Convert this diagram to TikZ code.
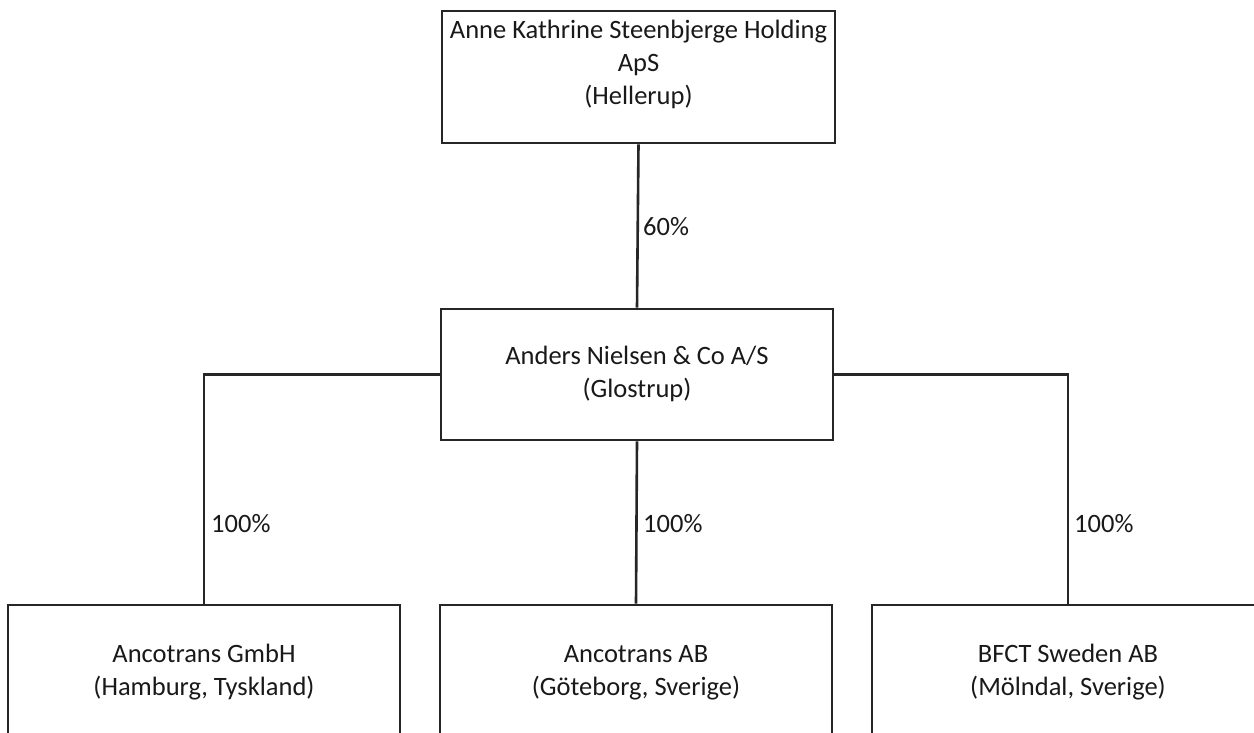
\documentclass[tikz,border=0pt]{standalone}
\usepackage{fontspec}
\setmainfont{Carlito}
\begin{document}
\begin{tikzpicture}[x=1pt,y=-1pt,
  box/.style={draw=black!85, line width=2.6pt, rectangle, inner sep=0pt},
  txt/.style={align=center, inner sep=0pt, anchor=base, text=black!90,
    font=\fontsize{26.5}{33}\selectfont},
  pct/.style={inner sep=0pt, anchor=base west, text=black!90,
    font=\fontsize{26.5}{33}\selectfont},
  link/.style={draw=black!85, line width=2.6pt}]
\useasboundingbox[fill=white] (0,0) rectangle (1254,732);
% boxes
\node[box, minimum width=393pt, minimum height=132pt] (top) at (638.5,77) {};
\node[box, minimum width=392pt, minimum height=131pt] (mid) at (637,374.5) {};
\node[box, minimum width=392pt, minimum height=160pt] (b1) at (204,685) {};
\node[box, minimum width=392pt, minimum height=160pt] (b2) at (636,685) {};
\node[box, minimum width=392pt, minimum height=160pt] (b3) at (1068,685) {};
% texts (anchor base = baseline of last line)
\node[txt] (ttop) at (638.5,104) {Anne Kathrine Steenbjerge Holding\\ApS\\(Hellerup)};
\node[txt] (tmid) at (637,397) {Anders Nielsen \& Co A/S\\(Glostrup)};
\node[txt] (tb1) at (204,695) {Ancotrans GmbH\\(Hamburg, Tyskland)};
\node[txt] (tb2) at (636,695) {Ancotrans AB\\(G\"oteborg, Sverige)};
\node[txt] (tb3) at (1068,695) {BFCT Sweden AB\\(M\"olndal, Sverige)};
% connectors
\draw[link] (top.south) -- (mid.north);
\draw[link] (mid.west) -| (b1.north);
\draw[link] (mid.south) -- (b2.north);
\draw[link] (mid.east) -| (b3.north);
% labels
\node[pct] (p0) at (643,235) {60\%};
\node[pct] (p1) at (211,532) {100\%};
\node[pct] (p2) at (643,532) {100\%};
\node[pct] (p3) at (1074,532) {100\%};
\end{tikzpicture}
\end{document}
